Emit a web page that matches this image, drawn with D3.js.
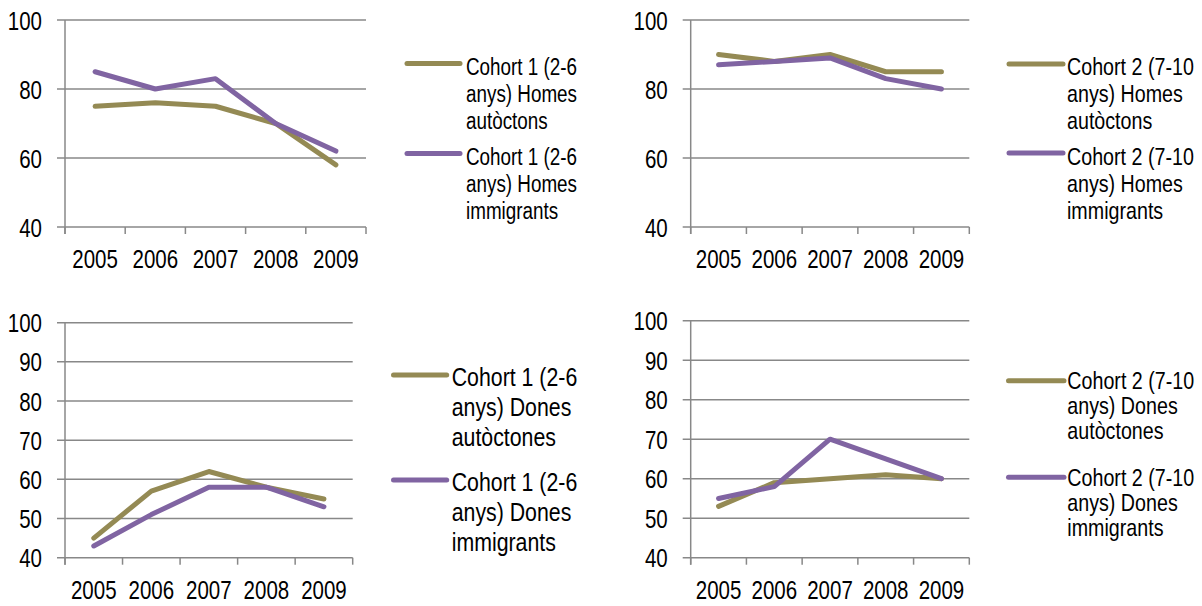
<!DOCTYPE html>
<html><head><meta charset="utf-8">
<script src="https://cdn.jsdelivr.net/npm/d3@7"></script>
<style>html,body{margin:0;padding:0;background:#fff;}svg{display:block;}</style>
</head><body>
<svg id="chart" width="1202" height="606"></svg>
<script>
// ---------- data ----------
const years = ["2005", "2006", "2007", "2008", "2009"];
const yTicksHomes = [40, 60, 80, 100];
const yTicksDones = [40, 50, 60, 70, 80, 90, 100];

const c1HomesAutoctons = [75, 76, 75, 70, 58];
const c1HomesImmigrants = [85, 80, 83, 70, 62];
const c2HomesAutoctons = [90, 88, 90, 85, 85];
const c2HomesImmigrants = [87, 88, 89, 83, 80];
const c1DonesAutoctones = [45, 57, 62, 58, 55];
const c1DonesImmigrants = [43, 51, 58, 58, 53];
const c2DonesAutoctones = [53, 59, 60, 61, 60];
const c2DonesImmigrants = [55, 58, 70, 65, 60];

const lblC1HomesAut = ["Cohort 1 (2-6", "anys) Homes", "autòctons"];
const lblC1HomesImm = ["Cohort 1 (2-6", "anys) Homes", "immigrants"];
const lblC2HomesAut = ["Cohort 2 (7-10", "anys) Homes", "autòctons"];
const lblC2HomesImm = ["Cohort 2 (7-10", "anys) Homes", "immigrants"];
const lblC1DonesAut = ["Cohort 1 (2-6", "anys) Dones", "autòctones"];
const lblC1DonesImm = ["Cohort 1 (2-6", "anys) Dones", "immigrants"];
const lblC2DonesAut = ["Cohort 2 (7-10", "anys) Dones", "autòctones"];
const lblC2DonesImm = ["Cohort 2 (7-10", "anys) Dones", "immigrants"];

// ---------- styles ----------
const OLIVE = "#948a54", PURPLE = "#8064a2", GRID = "#888888";

function fontAvailable(name) {
  const c = document.createElement("canvas").getContext("2d");
  const s = "Cohort 1 (2-6) anys Homes 2005";
  c.font = "40px monospace"; const w1 = c.measureText(s).width;
  c.font = `40px "${name}", monospace`; const w2 = c.measureText(s).width;
  return Math.abs(w1 - w2) > 0.5;
}
const hasNarrow = fontAvailable("Liberation Sans Narrow");
const FONT = hasNarrow ? '"Liberation Sans Narrow", "Arial Narrow", sans-serif' : '"Liberation Sans", Arial, sans-serif';
const SX = hasNarrow ? 1 : 0.82;

const panels = [
  { x0: 65, x1: 366, yTop: 20, yBot: 227, ticks: yTicksHomes,
    series: [c1HomesAutoctons, c1HomesImmigrants], labels: [lblC1HomesAut, lblC1HomesImm],
    leg: { lx0: 407, lx1: 460, ly: [63.5, 153.5], tx: 466, ty: [66.7, 156.7], gap: 27, fs: 23 } },
  { x0: 690.7, x1: 969.3, yTop: 20, yBot: 227, ticks: yTicksHomes,
    series: [c2HomesAutoctons, c2HomesImmigrants], labels: [lblC2HomesAut, lblC2HomesImm],
    leg: { lx0: 1009, lx1: 1063, ly: [64, 153], tx: 1067, ty: [66.7, 156.7], gap: 27, fs: 24 } },
  { x0: 65, x1: 352.7, yTop: 322.7, yBot: 557.7, ticks: yTicksDones,
    series: [c1DonesAutoctones, c1DonesImmigrants], labels: [lblC1DonesAut, lblC1DonesImm],
    leg: { lx0: 393.5, lx1: 446.7, ly: [375, 480], tx: 451.7, ty: [376.7, 481.7], gap: 30, fs: 26 } },
  { x0: 690.7, x1: 969.3, yTop: 320.7, yBot: 557.7, ticks: yTicksDones,
    series: [c2DonesAutoctones, c2DonesImmigrants], labels: [lblC2DonesAut, lblC2DonesImm],
    leg: { lx0: 1008.5, lx1: 1064, ly: [380.7, 477.3], tx: 1067.3, ty: [380.7, 477.3], gap: 25, fs: 24 } }
];
const colors = [OLIVE, PURPLE];

const svg = d3.select("#chart");
svg.append("rect").attr("width", 1202).attr("height", 606).attr("fill", "#fff");

function addText(g, x, y, str, fs, anchor) {
  return g.append("text")
    .attr("transform", `translate(${x},${y}) scale(${SX},1)`)
    .attr("text-anchor", anchor || "start")
    .attr("font-family", FONT).attr("font-size", fs).attr("fill", "#000")
    .text(str);
}

panels.forEach(p => {
  const g = svg.append("g");
  const x = d3.scaleBand().domain(years).range([p.x0, p.x1]).paddingInner(0).paddingOuter(0);
  const y = d3.scaleLinear().domain([40, 100]).range([p.yBot, p.yTop]);

  // gridlines (with left tick overhang)
  g.selectAll(".grid").data(p.ticks).join("line")
    .attr("x1", p.x0 - 8).attr("x2", p.x1)
    .attr("y1", d => y(d)).attr("y2", d => y(d))
    .attr("stroke", GRID).attr("stroke-width", 1.5);
  // y axis line
  g.append("line").attr("x1", p.x0).attr("x2", p.x0).attr("y1", p.yTop).attr("y2", p.yBot + 7)
    .attr("stroke", GRID).attr("stroke-width", 1.5);
  // x category boundary ticks
  const bounds = years.map(d => x(d)).concat([x(years[years.length - 1]) + x.bandwidth()]);
  g.selectAll(".xt").data(bounds).join("line")
    .attr("x1", d => d).attr("x2", d => d).attr("y1", p.yBot).attr("y2", p.yBot + 7)
    .attr("stroke", GRID).attr("stroke-width", 1.5);

  // y labels via axis
  const ya = g.append("g").attr("transform", `translate(${p.x0},0)`)
    .call(d3.axisLeft(y).tickValues(p.ticks).tickSize(0).tickPadding(23).tickFormat(d3.format("d")));
  ya.select(".domain").remove();
  ya.selectAll("text").attr("font-family", FONT).attr("font-size", 25).attr("fill", "#000")
    .each(function () {
      const t = d3.select(this); const xx = +t.attr("x");
      t.attr("x", xx / SX).attr("transform", `scale(${SX},1)`).attr("dy", "0.36em");
    });

  // x labels via axis
  const xa = g.append("g").attr("transform", `translate(0,${p.yBot})`)
    .call(d3.axisBottom(x).tickSize(0).tickPadding(0));
  xa.select(".domain").remove();
  xa.selectAll("text").attr("font-family", FONT).attr("font-size", 25).attr("fill", "#000")
    .attr("y", 41).attr("dy", 0)
    .attr("transform", `scale(${SX},1)`);

  // lines
  const line = d3.line().x((d, i) => x(years[i]) + x.bandwidth() / 2).y(d => y(d));
  p.series.forEach((s, k) => {
    g.append("path").datum(s).attr("d", line).attr("fill", "none")
      .attr("stroke", colors[k]).attr("stroke-width", 5)
      .attr("stroke-linejoin", "round").attr("stroke-linecap", "round");
  });

  // legend
  const L = p.leg;
  p.labels.forEach((lines, k) => {
    g.append("line").attr("x1", L.lx0).attr("x2", L.lx1).attr("y1", L.ly[k]).attr("y2", L.ly[k])
      .attr("stroke", colors[k]).attr("stroke-width", 5).attr("stroke-linecap", "round");
    lines.forEach((str, j) => {
      addText(g, L.tx, L.ty[k] + j * L.gap + 0.36 * L.fs, str, L.fs);
    });
  });
});
</script>
</body></html>
